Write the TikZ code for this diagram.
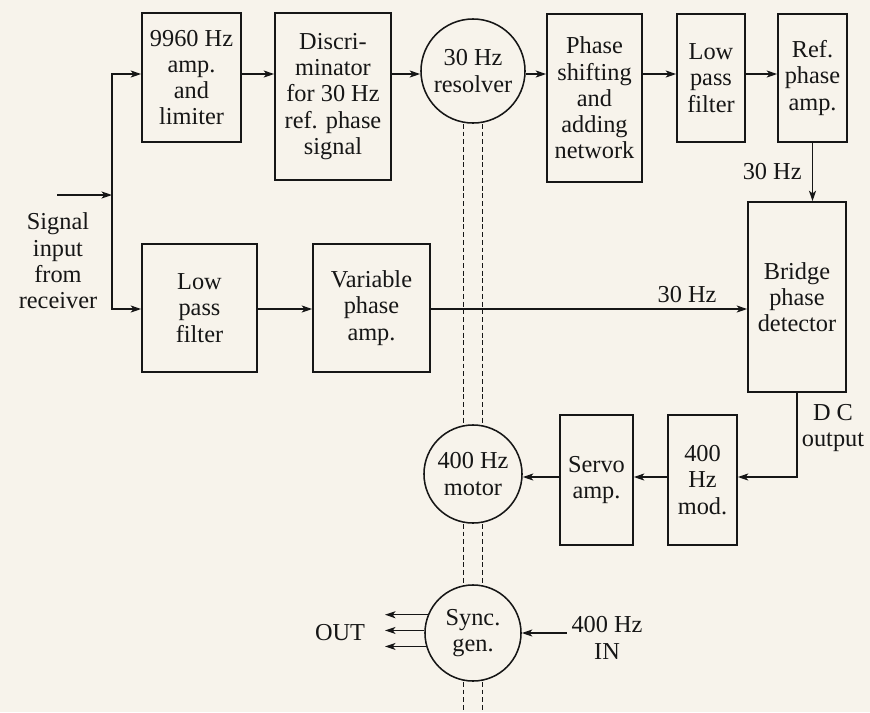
\documentclass[tikz,border=0pt]{standalone}
\usepackage{fontspec}
\setmainfont{Liberation Serif}
\usepackage{tikz}
\usetikzlibrary{arrows.meta, calc, positioning}
\definecolor{Paper}{HTML}{F7F3EB}
\definecolor{Ink}   {HTML}{161616}

\begin{document}
\begin{tikzpicture}[x=0.025cm, y=-0.025cm, color=Ink,
    font=\fontsize{17.3}{18.7}\selectfont,
    blk/.style={draw, line width=1.1pt, align=center, inner sep=0pt},
    rot/.style={draw, circle, line width=1.1pt, align=center, inner sep=0pt},
    arr/.style={-{Stealth[length=7.5pt, width=5pt, inset=2pt]}, line width=0.9pt},
    shaft/.style={line width=0.8pt, dash pattern=on 3.5pt off 2pt}]
  % page
  \fill[Paper] (0,0) rectangle (870,712);
  \coordinate (row1) at (0,74);
  \coordinate (row2) at (0,309);
  \coordinate (row3) at (0,477);
  \coordinate (bottom) at (0,712);
  % reference channel
  \node[blk, minimum width=2.475cm, minimum height=3.225cm] (amp) at (191.5,77.5)
    {9960 Hz\\amp.\\and\\limiter};
  \node[blk, minimum width=2.9cm, minimum height=4.175cm] (disc) at (333,96.5)
    {Discri-\\minator\\for 30 Hz\\ref. phase\\signal};
  \node[rot, minimum size=2.6cm] (res) at (473,71) {30 Hz\\resolver};
  \node[blk, minimum width=2.375cm, minimum height=4.2cm] (shift) at (594.5,98)
    {Phase\\shifting\\and\\adding\\network};
  \node[blk, minimum width=1.7cm, minimum height=3.2cm] (lpfref) at (711,78)
    {Low\\pass\\filter};
  \node[blk, minimum width=1.725cm, minimum height=3.2cm] (refamp) at (812.5,78)
    {Ref.\\phase\\amp.};
  % variable channel
  \node[blk, minimum width=2.875cm, minimum height=3.2cm] (lpfvar) at (199.5,308)
    {Low\\pass\\filter};
  \node[blk, minimum width=2.925cm, minimum height=3.2cm] (varamp) at (371.5,308)
    {Variable\\phase\\amp.};
  \node[blk, minimum width=2.45cm, minimum height=4.75cm] (bridge) at (797,297)
    {Bridge\\phase\\detector};
  % servo loop
  \node[rot, minimum size=2.45cm] (motor) at (473,474) {400 Hz\\motor};
  \node[blk, minimum width=1.825cm, minimum height=3.25cm] (servo) at (596.5,480)
    {Servo\\amp.};
  \node[blk, minimum width=1.725cm, minimum height=3.25cm] (mod) at (702.5,480)
    {400\\Hz\\mod.};
  \node[rot, minimum size=2.4cm] (sync) at (473,633) {Sync.\\gen.};
  % labels
  \node[align=center] (sig) at (58,261) {Signal\\input\\from\\receiver};
  \node[align=center] (dcout) at (833,428) {D C\\output};
  \node (outlab) at (340,633) {OUT};
  \node[align=center] (inlab) at (607,638) {400 Hz\\IN};
  \coordinate (sigin) at (57,195);
  \coordinate (split) at (112,195);
  \coordinate (outx) at (385,0);

  % input and split
  \draw[arr] (sigin) -- (split);
  \draw[arr] (split) |- (amp.west |- row1);
  \draw[arr] (split) |- (lpfvar.west |- row2);
  % top row
  \draw[arr] (amp.east |- row1) -- (disc.west |- row1);
  \draw[arr] (disc.east |- row1) -- (res.west |- row1);
  \draw[arr] (res.east |- row1) -- (shift.west |- row1);
  \draw[arr] (shift.east |- row1) -- (lpfref.west |- row1);
  \draw[arr] (lpfref.east |- row1) -- (refamp.west |- row1);
  \draw[arr] (refamp.south) -- (refamp.south |- bridge.north)
    node[midway, left=4pt] {30 Hz};
  % middle row
  \draw[arr] (lpfvar.east |- row2) -- (varamp.west |- row2);
  \draw[arr] (varamp.east |- row2) -- (bridge.west |- row2)
    node[pos=0.81, above=1pt] {30 Hz};
  % servo loop
  \draw[arr] (bridge.south) |- (mod.east |- row3);
  \draw[arr] (mod.west |- row3) -- (servo.east |- row3);
  \draw[arr] (servo.west |- row3) -- (motor.east |- row3);
  % sync generator
  \foreach \a in {158, 177, 196}
    \draw[arr] (sync.\a) -- (sync.\a -| outx);
  \draw[arr] (inlab.west |- sync.east) -- (sync.east);
  % shafts
  \foreach \dx in {-9.5, 9.5} {
    \draw[shaft] ($(res.south)+(\dx,0)$) -- ($(motor.north)+(\dx,0)$);
    \draw[shaft] ($(motor.south)+(\dx,0)$) -- ($(sync.north)+(\dx,0)$);
    \draw[shaft] ($(sync.south)+(\dx,0)$) -- ($(sync.south |- bottom)+(\dx,0)$);
  }
\end{tikzpicture}
\end{document}
